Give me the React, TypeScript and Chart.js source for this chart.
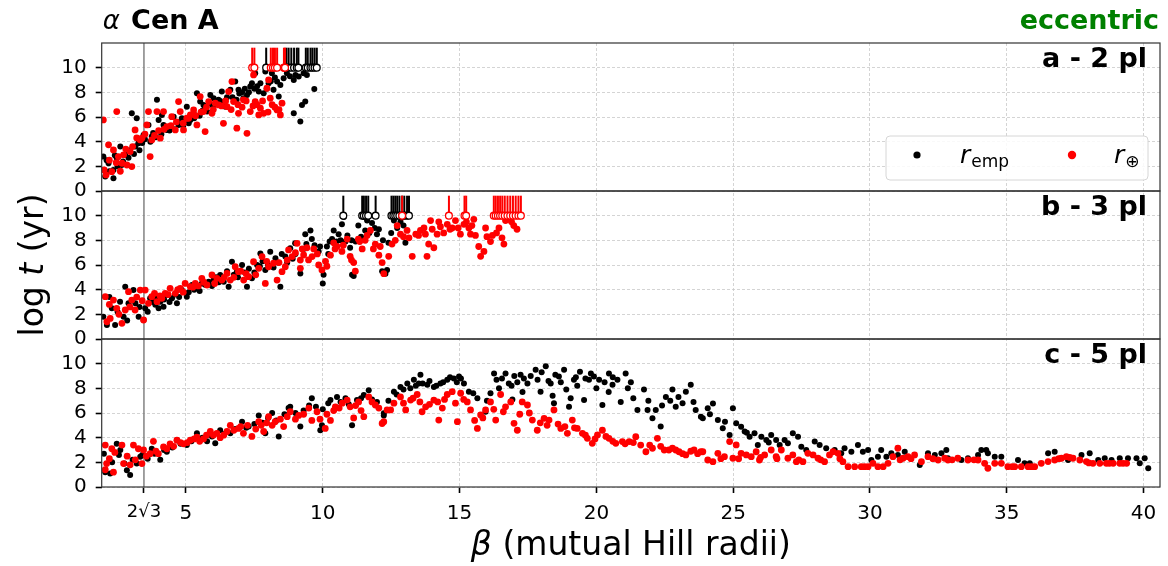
import React, { useEffect, useRef } from 'react';
import { Chart, registerables } from 'chart.js';

Chart.register(...registerables);

const FONT = "'DejaVu Sans', sans-serif";
const TWO_SQRT3 = 2 * Math.sqrt(3);
const xTickValues = [TWO_SQRT3, 5, 10, 15, 20, 25, 30, 35, 40];
const yTickValues = [0, 2, 4, 6, 8, 10];
const panelLabels = ['a - 2 pl', 'b - 3 pl', 'c - 5 pl'];
const titleLeft = 'Cen A';
const titleRight = 'eccentric';
const SURVIVOR_LOGT = 10;

// ---------- panel a (2 planets) ----------
const aEmp: [number, number][] = [
  [1.98,2.79],[2.05,1.17],[2.17,2.25],[2.35,1.03],[2.35,1.71],[2.47,2.66],[2.6,3.6],[2.78,2.93],[3.02,6.3],[3.2,5.9],
  [3.26,3.87],[3.45,4.55],[3.63,5.36],[3.75,4.41],[3.94,7.39],[4.0,5.76],[4.12,6.17],[4.18,5.36],[4.3,4.95],[4.55,6.03],
  [4.73,5.36],[4.85,5.9],[5.03,6.84],[5.16,5.76],[5.28,6.3],[5.4,7.93],[5.52,7.25],[5.64,6.98],[5.77,6.44],[5.89,7.79],
  [6.01,7.52],[6.19,7.39],[6.31,8.06],[6.44,6.84],[6.62,8.2],[6.8,8.87],[6.92,8.2],[7.1,7.52],[7.23,7.79],[7.35,8.47],
  [7.41,8.74],[7.53,9.55],[7.66,8.06],[7.72,8.74],[7.84,7.93],[7.9,9.68],[8.02,8.74],[8.14,9.55],[8.2,8.2],[8.33,8.87],
  [8.39,7.66],[8.57,9.14],[8.69,9.55],[8.94,9.01],[8.94,6.3],[9.12,9.28],[9.18,5.63],[9.3,9.55],[9.36,7.25],[9.42,9.41],
  [9.24,6.98],[9.69,8.28],[3.5,4.2],[3.7,4.0],[3.9,4.35],[4.1,4.6],[4.4,4.9],[4.6,5.0],[4.9,5.3],[5.1,5.5],
  [5.3,5.9],[5.5,6.1],[5.7,6.7],[5.95,7.0],[6.1,7.1],[6.25,7.3],[6.5,7.6],[6.7,7.6],[6.95,7.9],[7.15,8.3],
  [7.3,8.0],[7.6,8.5],[7.95,8.3],[8.1,8.9],[2.2,1.6],[2.5,2.0],[2.7,2.4],[2.9,2.7],[3.1,3.0],[3.3,3.3],
  [2.1,2.5],[2.4,2.9],[2.65,2.1],[2.95,3.3],[3.15,3.6],[3.4,3.9],[3.8,4.7],[4.25,5.2],[4.7,5.6],[5.2,6.0],
  [5.6,6.5],[6.0,6.9],[6.35,7.0],[6.85,7.4],[7.05,8.0],[7.5,8.3],[8.25,9.2],[8.45,8.6],[8.8,9.3],[9.0,9.4]
];
const aEarth: [number, number][] = [
  [1.98,5.76],[2.01,1.71],[2.08,1.3],[2.17,3.74],[2.29,1.57],[2.35,3.33],[2.47,6.44],[2.53,2.79],[2.66,2.25],[2.72,2.93],
  [2.84,2.11],[2.96,3.2],[3.02,1.98],[3.14,4.95],[3.33,4.14],[3.39,4.28],[3.57,5.36],[3.63,6.44],[3.69,2.79],[3.75,4.14],
  [3.94,6.44],[4.06,4.28],[4.18,6.44],[4.3,5.22],[4.48,6.03],[4.61,4.95],[4.73,7.25],[4.79,6.44],[4.91,4.95],[5.03,5.9],
  [5.16,6.17],[5.28,6.57],[5.4,5.36],[5.52,7.66],[5.64,6.44],[5.7,4.82],[5.83,7.25],[5.95,6.3],[6.07,7.12],[6.19,6.98],
  [6.37,5.49],[6.5,6.84],[6.56,8.06],[6.68,8.87],[6.74,7.25],[6.86,5.09],[6.92,6.3],[7.1,7.39],[7.23,4.68],[7.35,6.44],
  [7.47,9.41],[7.53,7.25],[7.66,6.17],[7.72,6.71],[7.84,6.3],[7.96,8.33],[8.02,9.01],[8.08,7.52],[8.33,6.57],[8.45,6.17],
  [8.51,7.12],[8.57,9.95],[2.2,2.5],[2.45,2.3],[2.6,1.6],[2.8,3.4],[3.05,3.6],[3.2,4.3],[3.5,4.6],[3.85,4.5],
  [4.0,4.9],[4.2,5.0],[4.45,5.3],[4.65,5.6],[4.9,5.5],[5.1,5.9],[5.35,6.1],[5.55,6.4],[5.75,6.8],[6.0,6.6],
  [6.3,6.9],[6.45,7.3],[6.65,6.6],[6.9,7.0],[7.05,6.8],[7.2,7.3],[7.45,6.9],[7.6,7.0],[7.8,7.3],[8.0,6.4],
  [8.15,7.0],[8.25,6.8],[8.4,6.6]
];
const aEmpSurvivors = [7.93, 8.67, 8.75, 8.85, 8.95, 9.05, 9.11, 9.38, 9.45, 9.55, 9.62, 9.7, 9.78];
const aEarthSurvivors = [7.42, 7.5, 8.1, 8.18, 8.25, 8.33, 8.58, 8.62];

// ---------- panel b (3 planets) ----------
const bEmp: [number, number][] = [
  [1.98,1.81],[2.11,1.13],[2.29,2.49],[2.41,1.13],[2.59,3.03],[2.72,1.81],[2.78,4.24],[2.9,2.89],[3.08,3.97],[3.27,1.81],
  [3.45,1.54],[3.51,2.49],[3.69,3.3],[3.88,2.78],[4.06,3.03],[4.18,2.62],[4.3,3.57],[4.49,3.3],[4.67,2.89],[4.85,3.97],
  [5.03,3.43],[5.22,4.38],[5.4,4.11],[5.58,4.51],[5.83,4.65],[6.01,4.78],[6.25,5.19],[6.38,4.65],[6.56,4.24],[6.68,6.27],
  [6.86,5.46],[7.05,6.0],[7.23,4.24],[7.41,4.92],[7.6,6.0],[7.72,6.94],[7.9,5.59],[8.08,7.08],[8.27,6.54],[8.45,4.24],
  [8.63,6.68],[8.81,7.35],[8.99,7.76],[9.18,5.32],[9.36,8.5],[9.55,8.8],[9.6,8.1],[9.4,7.7],[9.85,7.1],[10.03,5.2],
  [10.0,4.5],[10.15,7.5],[10.34,8.1],[10.4,8.8],[10.58,8.5],[10.7,9.3],[10.77,9.9],[10.83,7.9],[11.0,7.4],[11.07,5.2],
  [11.13,5.1],[11.3,9.2],[11.5,9.9],[11.62,9.6],[11.8,9.4],[11.98,8.5],[12.05,8.9],[12.17,5.5],[12.29,5.3],[12.35,5.6],
  [12.6,9.6],[12.84,9.5],[13.02,7.8],[12.72,9.0],[3.3,2.6],[3.6,2.2],[3.8,3.0],[4.0,2.5],[4.4,3.0],[4.6,3.6],
  [5.1,3.8],[5.3,4.0],[5.7,4.4],[6.1,5.0],[6.5,5.5],[6.9,5.0],[7.3,5.7],[7.5,5.4],[7.8,6.3],[8.2,5.8],
  [8.5,6.9],[8.7,6.2],[9.0,6.9],[9.7,7.6],[10.2,6.9],[10.5,7.9],[10.9,8.4],[11.2,7.9],[11.4,8.3],[11.7,8.6],
  [12.4,7.8],[12.5,8.6],[2.2,3.4],[2.5,2.2],[2.85,1.5],[3.15,2.9],[3.9,3.4],[4.2,3.2],[4.75,3.4],[5.5,3.9],
  [5.95,4.3],[6.2,4.6],[6.75,5.2],[7.15,5.4],[7.7,5.9],[8.0,6.0],[8.35,6.2],[8.9,6.5],[9.3,7.3],[9.9,7.5],
  [10.25,7.9],[10.65,8.0],[11.05,8.0],[11.55,8.8],[11.9,9.0],[12.2,8.0],[12.95,9.2]
];
const bEarth: [number, number][] = [
  [2.05,3.43],[2.11,1.4],[2.23,1.67],[2.35,3.16],[2.47,2.49],[2.66,1.27],[2.78,2.35],[2.9,3.84],[3.02,3.16],[3.14,2.35],
  [3.33,3.97],[3.45,1.54],[3.51,3.97],[3.63,2.89],[3.75,3.43],[3.94,3.03],[4.12,3.3],[4.24,3.7],[4.42,4.11],[4.61,3.7],
  [4.79,4.11],[4.97,4.51],[5.16,4.24],[5.34,4.51],[5.58,4.92],[5.77,4.38],[5.95,5.19],[6.13,4.92],[6.31,4.78],[6.5,5.32],
  [6.62,4.78],[6.8,5.86],[6.92,5.46],[7.11,4.78],[7.29,5.05],[7.47,6.27],[7.66,5.73],[7.78,6.68],[7.9,4.51],[8.02,5.86],
  [8.2,6.14],[8.33,4.78],[8.51,5.46],[8.63,5.86],[8.75,7.22],[8.88,6.68],[9.06,7.76],[9.18,5.73],[9.3,6.81],[9.48,6.41],
  [9.61,6.68],[9.18,6.4],[9.42,7.4],[9.67,7.3],[9.85,6.0],[9.97,5.6],[10.15,5.9],[10.28,6.8],[10.4,7.8],[10.52,7.5],
  [10.7,7.1],[10.89,8.1],[11.0,6.7],[11.13,6.2],[11.19,5.5],[11.3,8.1],[11.44,7.3],[11.62,8.4],[11.74,8.8],[11.92,7.7],
  [12.05,6.8],[12.17,6.2],[12.23,5.3],[12.41,6.7],[12.53,7.7],[12.72,9.2],[12.9,9.9],[12.84,8.5],[13.08,8.8],[13.27,6.7],
  [13.4,8.5],[13.57,8.8],[13.75,8.5],[13.81,6.7],[13.87,7.7],[14.06,7.4],[14.18,8.5],[13.94,9.6],[14.24,9.5],[14.42,8.6],
  [14.55,9.3],[14.73,9.0],[14.85,9.6],[15.03,8.5],[15.16,9.3],[15.34,9.0],[15.52,9.7],[15.4,8.5],[15.58,8.4],[15.7,7.5],
  [15.77,6.7],[15.89,7.1],[15.95,9.0],[16.13,7.9],[16.2,8.4],[16.44,9.0],[16.62,7.7],[16.68,9.6],[16.8,9.7],[16.98,9.2],
  [17.1,8.9],[2.2,2.8],[2.55,2.0],[2.95,2.6],[3.2,3.4],[3.4,3.1],[3.85,3.7],[4.05,3.5],[4.35,3.6],[4.7,4.0],
  [4.9,3.8],[5.25,4.2],[5.45,4.3],[5.65,4.6],[6.05,4.5],[6.4,5.0],[6.75,5.0],[7.0,5.5],[7.2,5.3],[7.55,5.2],
  [7.95,6.3],[8.4,6.2],[8.7,6.4],[9.0,7.0],[9.25,7.3],[9.8,6.9],[10.1,6.3],[10.45,7.3],[10.75,7.6],[11.05,6.4],
  [11.35,7.9],[11.55,8.0],[11.85,7.3],[12.1,7.5],[12.65,8.0],[12.95,8.3],[13.15,8.2],[13.5,8.4],[13.7,9.0],[14.0,8.9],
  [14.3,9.1],[14.65,8.9],[14.95,9.0],[15.25,9.5],[15.45,9.2],[16.0,8.3],[16.35,8.6],[16.55,8.2],[16.9,9.5]
];
const bEmpSurvivors = [10.75, 11.44, 11.5, 11.58, 11.66, 11.93, 12.51, 12.58, 12.65, 12.72, 12.8, 12.9, 12.98, 13.08, 13.15];
const bEarthSurvivors = [12.9, 14.61, 15.18, 15.24, 16.25, 16.32, 16.4, 16.48, 16.56, 16.65, 16.75, 16.85, 16.95, 17.05, 17.15, 17.24];

// ---------- panel c (5 planets) ----------
const cEmp: [number, number][] = [
  [2.0,2.7],[2.05,1.2],[2.23,1.1],[2.47,3.5],[2.6,3.0],[2.84,1.35],[2.96,0.97],[3.2,1.9],[3.33,2.45],[3.57,2.45],
  [3.75,3.1],[4.06,2.2],[4.3,2.85],[4.67,3.8],[5.03,3.4],[5.4,4.35],[5.77,3.7],[6.07,3.55],[6.25,4.6],[6.62,4.35],
  [7.05,5.3],[7.29,4.9],[7.66,5.8],[7.9,4.35],[8.15,6.0],[8.39,4.1],[8.75,6.4],[8.81,6.5],[9.18,4.9],[9.6,7.2],
  [9.91,4.6],[9.97,5.0],[10.28,7.05],[10.52,7.3],[10.83,7.2],[11.07,5.0],[11.25,7.05],[11.5,7.45],[11.68,7.85],[11.98,6.9],
  [12.23,5.8],[12.23,5.97],[12.6,7.73],[12.84,8.1],[13.09,8.4],[13.33,8.7],[13.57,9.1],[13.51,8.4],[13.82,8.3],[14.06,8.1],
  [14.3,8.4],[14.55,8.7],[14.79,8.8],[14.98,8.95],[15.16,8.4],[15.34,7.73],[15.65,7.2],[15.95,6.1],[16.13,7.6],[16.26,9.2],
  [16.44,8.0],[16.68,9.2],[16.93,7.1],[17.11,8.5],[17.23,9.1],[17.48,8.4],[17.78,9.5],[17.96,7.73],[18.15,9.8],[18.33,8.4],
  [18.45,6.8],[18.63,8.95],[18.82,9.5],[19.0,6.5],[19.06,7.2],[19.18,8.7],[19.4,9.35],[19.55,7.05],[19.73,8.7],[19.91,8.95],
  [20.1,8.7],[20.22,6.65],[20.46,9.2],[20.59,8.3],[20.77,8.7],[20.89,6.9],[21.07,9.2],[21.26,8.5],[21.5,6.25],[21.74,7.9],
  [21.87,6.25],[22.05,5.57],[22.17,6.25],[22.35,4.9],[22.54,7.3],[22.78,7.9],[22.9,6.5],[23.15,6.8],[23.27,7.73],[23.45,8.3],
  [23.63,6.25],[23.82,5.7],[23.89,5.57],[24.07,6.38],[24.26,6.78],[24.44,5.43],[24.62,4.76],[24.87,4.22],[24.99,6.38],[25.11,5.16],
  [25.29,4.89],[25.42,4.49],[25.6,4.08],[25.78,4.35],[25.9,3.41],[26.03,4.08],[26.21,3.81],[26.39,4.22],[26.57,3.81],[26.7,3.41],
  [26.88,3.81],[27.0,3.54],[27.18,4.35],[27.37,4.08],[27.49,3.27],[27.67,3.0],[27.98,3.68],[28.16,3.41],[28.4,3.14],[28.71,3.0],
  [28.95,2.73],[29.07,3.14],[29.32,2.86],[29.56,3.41],[29.74,2.86],[29.93,3.0],[30.05,2.19],[30.29,2.46],[30.41,3.0],[30.6,2.46],
  [30.78,2.73],[31.02,2.6],[31.27,2.86],[31.82,1.78],[32.12,2.73],[32.37,2.6],[32.61,2.73],[32.79,3.0],[32.85,2.33],[33.34,2.19],
  [33.58,2.33],[33.95,2.6],[34.07,3.0],[34.25,3.0],[34.31,2.73],[34.56,2.46],[34.8,2.46],[35.41,2.19],[35.65,1.92],[35.84,1.92],
  [36.51,2.73],[36.75,2.86],[37.0,2.33],[37.24,2.19],[37.73,2.6],[38.03,2.73],[38.34,2.19],[38.58,2.33],[38.83,2.19],[39.13,2.33],
  [39.43,2.33],[39.74,2.33],[39.86,1.92],[40.04,2.33],[40.17,1.52],
  [12.4,7.0],[12.7,7.5],[12.95,7.9],[13.2,8.0],[13.4,8.2],[13.65,8.4],[13.9,8.6],[14.15,8.2],[14.4,8.5],[14.65,8.9],
  [14.9,8.5],[15.05,8.8],[16.35,8.7],[16.55,8.8],[16.8,8.4],[17.0,9.0],[17.35,8.8],[17.6,9.0],[17.85,8.7],[18.0,9.3],
  [18.25,8.6],[18.5,9.1],[18.7,8.5],[19.25,8.9],[19.6,8.8],[19.8,9.2],[20.3,8.5],[20.6,8.9],[21.15,8.0],
  [2.3,2.0],[2.55,2.6],[2.75,1.9],[3.05,2.2],[3.4,2.6],[3.6,2.3],[3.85,2.7],[4.2,3.0],[4.5,3.2],[4.8,3.5],
  [5.2,3.7],[5.6,4.0],[5.95,4.1],[6.4,4.3],[6.8,4.7],[7.2,4.8],[7.5,5.1],[7.8,5.2],[8.0,5.6],[8.3,5.4],
  [8.6,5.9],[9.0,6.0],[9.3,6.2],[9.5,6.6],[9.75,6.5],[10.0,6.3],[10.2,6.8],[10.65,6.9],[10.95,6.7],[11.4,7.2],
  [11.8,7.1],[15.5,7.6],[16.0,7.0],[16.9,8.2],[17.3,7.7],[18.4,7.4],[18.9,7.9],[19.3,8.2],[20.0,8.0],[20.45,7.7],
  [21.35,7.2],[21.9,7.0],[22.4,6.6],[22.7,7.0],[23.0,7.3],[23.55,6.9],[24.15,5.9],[24.7,5.3],[25.5,4.4],[26.3,3.6]
];
const cEarth: [number, number][] = [
  [2.05,3.4],[2.1,1.9],[2.05,1.4],[2.29,3.1],[2.35,1.2],[2.66,3.4],[2.72,1.9],[2.96,1.8],[3.08,3.4],[3.26,3.1],
  [3.39,1.9],[3.45,3.0],[3.69,2.7],[3.81,3.7],[3.99,2.7],[4.18,3.25],[4.42,3.5],[4.67,3.8],[4.91,3.5],[5.16,3.8],
  [5.4,4.05],[5.64,3.9],[5.89,4.5],[6.13,4.35],[6.38,4.2],[6.62,5.0],[6.92,4.75],[7.1,4.35],[7.41,4.1],[7.66,5.3],
  [7.84,4.5],[8.02,5.7],[8.26,5.3],[8.57,4.9],[8.81,6.1],[9.12,5.8],[9.49,6.4],[9.6,5.4],[9.79,6.1],[10.09,4.75],
  [10.28,5.4],[10.46,6.5],[10.71,6.8],[10.89,7.05],[11.13,5.6],[11.31,6.9],[11.5,5.7],[11.68,7.3],[11.92,6.65],[12.17,5.15],
  [12.35,6.25],[12.23,5.3],[12.48,6.25],[12.84,7.3],[13.03,6.25],[13.21,7.05],[13.45,7.5],[13.63,6.1],[13.76,6.5],[14.06,7.05],
  [14.24,5.43],[14.37,6.4],[14.55,7.5],[14.73,7.73],[14.92,5.3],[15.04,7.6],[15.28,6.9],[15.4,6.25],[15.65,4.75],[15.77,5.84],
  [15.95,6.25],[16.13,6.9],[16.32,5.43],[16.5,7.5],[16.68,6.5],[16.87,6.9],[16.99,5.16],[17.11,4.6],[17.29,6.9],[17.48,6.65],
  [17.66,5.43],[17.84,4.6],[18.09,5.57],[18.27,5.43],[18.45,6.25],[18.7,4.75],[18.94,4.35],[19.12,5.43],[19.3,4.75],[19.49,4.35],
  [19.67,3.95],[19.85,3.54],[20.04,4.22],[20.22,4.6],[20.46,3.95],[20.71,3.54],[20.95,3.68],[21.2,3.68],[21.44,4.08],[21.62,3.4],
  [21.81,2.86],[22.05,3.14],[22.23,3.95],[22.48,3.0],[22.78,3.14],[23.02,2.86],[23.27,2.6],[23.57,3.0],[23.82,2.86],[23.89,2.86],
  [24.07,2.19],[24.26,2.05],[24.44,2.73],[24.68,2.46],[24.87,3.68],[24.99,2.33],[25.11,3.41],[25.29,2.73],[25.48,2.6],[25.66,2.46],
  [25.84,2.86],[25.96,2.19],[26.15,2.6],[26.39,3.0],[26.57,2.46],[26.76,3.0],[27.0,2.33],[27.18,2.6],[27.31,2.05],[27.55,2.05],
  [27.73,2.73],[27.92,2.6],[28.1,2.33],[28.34,2.05],[28.52,2.6],[28.65,2.86],[28.83,2.73],[29.01,2.05],[29.2,1.65],[29.44,1.65],
  [29.68,1.65],[29.93,1.65],[30.11,1.92],[30.29,1.65],[30.48,1.65],[30.66,1.92],[30.84,2.46],[31.02,3.14],[31.21,2.33],[31.39,2.46],
  [31.63,2.6],[31.88,2.05],[32.12,2.46],[32.49,2.19],[32.73,2.33],[32.85,2.19],[33.21,2.33],[33.58,2.19],[33.95,2.19],[34.19,1.92],
  [34.31,1.52],[34.56,1.92],[34.8,1.92],[35.04,1.65],[35.29,1.65],[35.53,1.65],[35.78,1.65],[36.02,1.65],[36.26,1.92],[36.51,2.06],
  [36.75,2.19],[37.0,2.33],[37.18,2.46],[37.42,2.33],[37.67,2.19],[37.91,2.06],[38.15,1.92],[38.4,1.92],[38.64,1.92],[38.89,1.92],
  [39.13,1.92],[39.38,1.92],
  [2.2,2.3],[2.4,2.8],[2.85,2.5],[3.15,2.2],[3.55,2.5],[3.9,2.9],[4.3,3.1],[4.55,3.3],[4.8,3.6],[5.05,3.6],
  [5.3,3.9],[5.5,3.7],[5.75,4.2],[6.0,4.2],[6.25,4.0],[6.5,4.5],[6.75,4.6],[7.0,4.9],[7.25,5.0],[7.55,4.7],
  [7.75,5.0],[7.95,5.2],[8.15,5.0],[8.45,5.5],[8.7,5.7],[9.0,5.5],[9.3,5.9],[9.9,5.5],[10.15,5.9],[10.4,6.2],
  [10.6,6.4],[11.0,6.5],[11.2,6.6],[11.4,6.2],[11.8,6.9],[12.05,6.4],[12.6,6.8],[12.95,6.8],[13.3,7.2],[13.55,6.9],
  [13.9,6.7],[14.2,6.9],[14.45,7.1],[14.85,6.8],[15.15,7.1],[15.55,5.4],[15.85,5.6],[16.25,6.3],[16.6,6.1],[17.2,5.9],
  [17.55,6.0],[17.95,5.2],[18.2,5.0],[18.6,5.1],[18.85,4.9],[19.2,4.8],[19.6,4.2],[19.95,3.9],[20.35,4.1],[20.6,3.7],
  [21.05,3.5],[21.35,3.6],[21.95,3.4],[22.35,3.3],[22.65,3.0],[22.9,3.0],[23.15,2.7],[23.45,2.9],[23.7,2.7],
  [24.55,2.3],[25.2,2.3],[26.0,2.4],[26.6,2.3],[27.4,2.2],[28.2,2.2],[28.9,2.3],[29.8,1.65],[31.1,2.2],[31.5,2.3],
  [32.3,2.3],[33.0,2.2],[33.8,2.2],[35.2,1.65],[35.9,1.65],[36.9,2.3],[37.3,2.4],[38.0,1.95],[38.75,1.92],[39.25,1.92]
];

const EMP_COLOR = '#000000';
const EARTH_COLOR = '#ff0000';

function makeBarStyle(color: string): HTMLCanvasElement {
  const c = document.createElement('canvas');
  c.width = 4;
  c.height = 44;
  const g = c.getContext('2d')!;
  g.fillStyle = color;
  g.fillRect(1, 2, 2, 17);
  return c;
}

const toPts = (arr: [number, number][]) => arr.map(([x, y]) => ({ x, y }));
const survPts = (arr: number[]) => arr.map((x) => ({ x, y: SURVIVOR_LOGT }));

function panelDatasets(axis: string, emp: [number, number][], earth: [number, number][], empS: number[], earthS: number[], bars: { emp: HTMLCanvasElement; earth: HTMLCanvasElement }) {
  return [
    { type: 'scatter', label: axis + 'emp', data: toPts(emp), yAxisID: axis, backgroundColor: EMP_COLOR, borderWidth: 0, pointRadius: 3.0, order: 6 },
    { type: 'scatter', label: axis + 'earth', data: toPts(earth), yAxisID: axis, backgroundColor: EARTH_COLOR, borderWidth: 0, pointRadius: 3.4, order: 5 },
    { type: 'scatter', label: axis + 'embar', data: survPts(empS), yAxisID: axis, pointStyle: bars.emp, order: 4 },
    { type: 'scatter', label: axis + 'eabar', data: survPts(earthS), yAxisID: axis, pointStyle: bars.earth, order: 3 },
    { type: 'scatter', label: axis + 'emc', data: survPts(empS), yAxisID: axis, backgroundColor: '#ffffff', borderColor: EMP_COLOR, borderWidth: 1.3, pointRadius: 3.4, order: 2 },
    { type: 'scatter', label: axis + 'eac', data: survPts(earthS), yAxisID: axis, backgroundColor: '#ffffff', borderColor: EARTH_COLOR, borderWidth: 1.3, pointRadius: 3.4, order: 1 },
  ];
}

const GRID_COLOR = '#c9c9c9';

function yScale(weight: number) {
  return {
    type: 'linear',
    position: 'left',
    stack: 'panels',
    stackWeight: 1,
    weight,
    min: 0,
    max: 12,
    afterBuildTicks: (s: any) => { s.ticks = yTickValues.map((v) => ({ value: v })); },
    afterFit: (s: any) => { s.width = 101.7; },
    grid: { color: GRID_COLOR, lineWidth: 0.8, drawTicks: true, tickLength: 6, tickWidth: 1.6, tickColor: '#000' },
    border: { display: false, dash: [3, 2] },
    ticks: { color: '#000', autoSkip: false, font: { family: FONT, size: 20 }, padding: 9, callback: (v: any) => String(v) },
  };
}

const decorPlugin = {
  id: 'decor',
  beforeDatasetsDraw(chart: any) {
    const { ctx, chartArea: ca, scales } = chart;
    const x = scales.x.getPixelForValue(TWO_SQRT3);
    ctx.save();
    ctx.strokeStyle = '#7a7a7a';
    ctx.lineWidth = 1.4;
    ctx.beginPath();
    ctx.moveTo(x, ca.top);
    ctx.lineTo(x, ca.bottom);
    ctx.stroke();
    ctx.restore();
  },
  afterDraw(chart: any) {
    const { ctx, chartArea: ca, scales } = chart;
    const panels = [scales.ya, scales.yb, scales.yc];
    ctx.save();
    ctx.strokeStyle = '#333333';
    ctx.lineWidth = 1.2;
    panels.forEach((s: any) => ctx.strokeRect(ca.left, s.top, ca.right - ca.left, s.bottom - s.top));

    ctx.fillStyle = '#000';
    ctx.textBaseline = 'alphabetic';
    ctx.textAlign = 'right';
    ctx.font = `bold 27px ${FONT}`;
    panels.forEach((s: any, i: number) => ctx.fillText(panelLabels[i], ca.right - 13, s.top + 24));

    ctx.textAlign = 'left';
    ctx.font = `italic 26px ${FONT}`;
    const tx = ca.left + 1;
    ctx.fillText('α', tx, 29);
    const aw = ctx.measureText('α ').width;
    ctx.font = `bold 27px ${FONT}`;
    ctx.fillText(titleLeft, tx + aw + 3, 29);

    ctx.textAlign = 'right';
    ctx.fillStyle = '#008000';
    ctx.font = `bold 27px ${FONT}`;
    ctx.fillText(titleRight, ca.right - 1, 29);

    ctx.fillStyle = '#000';
    ctx.save();
    ctx.translate(34, (ca.top + ca.bottom) / 2);
    ctx.rotate(-Math.PI / 2);
    ctx.textBaseline = 'middle';
    ctx.textAlign = 'left';
    const parts: [string, string][] = [['log ', 'normal'], ['t', 'italic'], [' (yr)', 'normal']];
    let total = 0;
    parts.forEach(([t, st]) => { ctx.font = `${st} 33px ${FONT}`; total += ctx.measureText(t).width; });
    let px = -total / 2;
    parts.forEach(([t, st]) => { ctx.font = `${st} 33px ${FONT}`; ctx.fillText(t, px, 0); px += ctx.measureText(t).width; });
    ctx.restore();

    const xparts: [string, string][] = [['β', 'italic'], [' (mutual Hill radii)', 'normal']];
    ctx.textAlign = 'left';
    ctx.textBaseline = 'alphabetic';
    total = 0;
    xparts.forEach(([t, st]) => { ctx.font = `${st} 33px ${FONT}`; total += ctx.measureText(t).width; });
    px = (ca.left + ca.right) / 2 - total / 2;
    xparts.forEach(([t, st]) => { ctx.font = `${st} 33px ${FONT}`; ctx.fillText(t, px, 555); px += ctx.measureText(t).width; });

    const ya = scales.ya;
    const lx = ca.right - 274;
    const ly = ya.top + 93;
    const lw = 262;
    const lh = 44;
    ctx.beginPath();
    if ((ctx as any).roundRect) (ctx as any).roundRect(lx, ly, lw, lh, 4); else ctx.rect(lx, ly, lw, lh);
    ctx.fillStyle = 'rgba(255,255,255,0.85)';
    ctx.fill();
    ctx.strokeStyle = '#d6d6d6';
    ctx.lineWidth = 1;
    ctx.stroke();

    const items = [
      { color: EMP_COLOR, r: 3.6, sub: 'emp', dx: 31, tx: 74 },
      { color: EARTH_COLOR, r: 4.2, sub: '⊕', dx: 186, tx: 228 },
    ];
    items.forEach((it) => {
      ctx.fillStyle = it.color;
      ctx.beginPath();
      ctx.arc(lx + it.dx, ly + 19, it.r, 0, Math.PI * 2);
      ctx.fill();
      ctx.fillStyle = '#000';
      ctx.textAlign = 'left';
      ctx.font = `italic 25px ${FONT}`;
      ctx.fillText('r', lx + it.tx, ly + 27);
      const rw = ctx.measureText('r').width;
      ctx.font = `normal 17px ${FONT}`;
      ctx.fillText(it.sub, lx + it.tx + rw + 1, ly + 31);
    });
    ctx.restore();
  },
};

export default function App() {
  const ref = useRef<HTMLCanvasElement>(null);
  useEffect(() => {
    const bars = { emp: makeBarStyle(EMP_COLOR), earth: makeBarStyle(EARTH_COLOR) };
    const datasets = [
      ...panelDatasets('ya', aEmp, aEarth, aEmpSurvivors, aEarthSurvivors, bars),
      ...panelDatasets('yb', bEmp, bEarth, bEmpSurvivors, bEarthSurvivors, bars),
      ...panelDatasets('yc', cEmp, cEarth, [], [], bars),
    ];
    const chart = new Chart(ref.current as HTMLCanvasElement, {
      type: 'scatter',
      data: { datasets: datasets as any },
      options: {
        animation: false,
        responsive: false,
        events: [],
        layout: { padding: { top: 43, right: 8, left: 0, bottom: 0 } },
        plugins: { legend: { display: false }, tooltip: { enabled: false }, title: { display: false } },
        scales: {
          x: {
            type: 'linear',
            position: 'bottom',
            min: 1.92,
            max: 40.6,
            afterBuildTicks: (s: any) => { s.ticks = xTickValues.map((v) => ({ value: v })); },
            afterFit: (s: any) => { s.height = 79; },
            grid: {
              color: (c: any) => (c.tick && Math.abs(c.tick.value - TWO_SQRT3) < 1e-6 ? 'rgba(0,0,0,0)' : GRID_COLOR),
              lineWidth: 0.8,
              drawTicks: true,
              tickLength: 6,
              tickWidth: 1.6,
              tickColor: '#000',
            },
            border: { display: false, dash: [3, 2] },
            ticks: {
              color: '#000',
              autoSkip: false,
              maxRotation: 0,
              minRotation: 0,
              padding: 9,
              font: (c: any) => ({ family: FONT, size: c.tick && Math.abs(c.tick.value - TWO_SQRT3) < 1e-6 ? 18 : 20 }),
              callback: (v: any) => (Math.abs(v - TWO_SQRT3) < 1e-6 ? '2√3' : String(v)),
            },
          },
          ya: yScale(3),
          yb: yScale(2),
          yc: yScale(1),
        } as any,
      },
      plugins: [decorPlugin],
    } as any);
    return () => chart.destroy();
  }, []);
  return (
    <div style={{ position: 'fixed', left: 0, top: 0, width: 1168, height: 566, background: '#ffffff' }}>
      <canvas ref={ref} width={1168} height={566} style={{ width: 1168, height: 566, display: 'block' }} />
    </div>
  );
}
